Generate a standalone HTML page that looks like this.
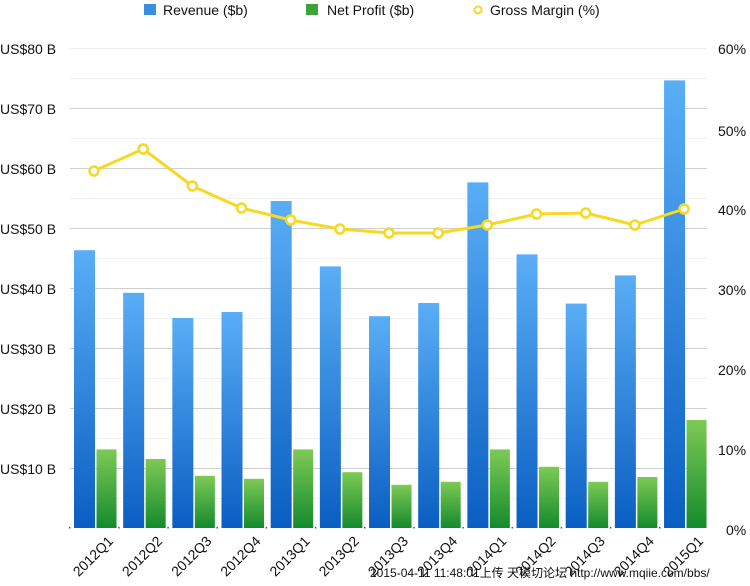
<!DOCTYPE html>
<html><head><meta charset="utf-8"><style>
html,body{margin:0;padding:0;background:#fff;width:750px;height:586px;overflow:hidden}
svg{display:block}
text{font-family:"Liberation Sans","Noto Sans CJK SC",sans-serif;fill:#111}
</style></head><body>
<svg width="750" height="586" viewBox="0 0 750 586" xmlns="http://www.w3.org/2000/svg">
<defs>
<linearGradient id="gb" x1="0" y1="0" x2="0" y2="1"><stop offset="0" stop-color="#5aaef6"/><stop offset="1" stop-color="#0a5ec2"/></linearGradient>
<linearGradient id="gg" x1="0" y1="0" x2="0" y2="1"><stop offset="0" stop-color="#7dca55"/><stop offset="1" stop-color="#148a2c"/></linearGradient>
</defs>
<!-- legend -->
<rect x="144" y="4" width="12" height="11" fill="#3c8fe0"/><text x="163" y="15" font-size="14">Revenue ($b)</text>
<rect x="306" y="4" width="12" height="11" fill="#3aa33a"/><text x="327" y="15" font-size="14">Net Profit ($b)</text>
<circle cx="478" cy="10" r="3.5" fill="none" stroke="#f5d923" stroke-width="2"/><text x="490" y="15" font-size="14">Gross Margin (%)</text>
<!-- grid -->
<g stroke="#f2f2f2" stroke-width="1">
<line x1="70" x2="707" y1="78.5" y2="78.5"/><line x1="70" x2="707" y1="138.5" y2="138.5"/><line x1="70" x2="707" y1="198.5" y2="198.5"/><line x1="70" x2="707" y1="258.5" y2="258.5"/><line x1="70" x2="707" y1="318.5" y2="318.5"/><line x1="70" x2="707" y1="378.5" y2="378.5"/><line x1="70" x2="707" y1="438.5" y2="438.5"/><line x1="70" x2="707" y1="498.5" y2="498.5"/>
</g>
<g stroke="#cfcfcf" stroke-width="1">
<line x1="70" x2="707" y1="48.5" y2="48.5" stroke="#eee"/><line x1="70" x2="707" y1="108.5" y2="108.5"/><line x1="70" x2="707" y1="168.5" y2="168.5"/><line x1="70" x2="707" y1="228.5" y2="228.5"/><line x1="70" x2="707" y1="288.5" y2="288.5"/><line x1="70" x2="707" y1="348.5" y2="348.5"/><line x1="70" x2="707" y1="408.5" y2="408.5"/><line x1="70" x2="707" y1="468.5" y2="468.5"/>
</g>
<g font-size="14">
<text x="0" y="54">US$80 B</text><text x="0" y="114">US$70 B</text><text x="0" y="174">US$60 B</text><text x="0" y="234">US$50 B</text><text x="0" y="294">US$40 B</text><text x="0" y="354">US$30 B</text><text x="0" y="414">US$20 B</text><text x="0" y="474">US$10 B</text>
<text x="718" y="54">60%</text><text x="718" y="136">50%</text><text x="718" y="215">40%</text><text x="718" y="295">30%</text><text x="718" y="375">20%</text><text x="718" y="455">10%</text><text x="726" y="535">0%</text>
</g>
<g id="bars"></g>
<g id="xl" font-size="14"></g>
<polyline id="gm" fill="none" stroke="#f5d923" stroke-width="3" stroke-linejoin="round"/>
<g id="pts"></g>
<text x="370" y="577" font-size="12" fill="#222">2015-04-11 11:48:01上传 天模切论坛 http://www.mqiie.com/bbs/</text>
</svg>
<script>
var rev=[46.3,39.2,35,36,54.5,43.6,35.3,37.5,57.6,45.6,37.4,42.1,74.6];
var np=[13.1,11.5,8.7,8.2,13.1,9.3,7.2,7.7,13.1,10.2,7.7,8.5,18];
var gmy=[171,149,186,208,220,229,233,233,225,214,213,225,209];
var labs=["2012Q1","2012Q2","2012Q3","2012Q4","2013Q1","2013Q2","2013Q3","2013Q4","2014Q1","2014Q2","2014Q3","2014Q4","2015Q1"];
var ns="http://www.w3.org/2000/svg",b=document.getElementById("bars"),xl=document.getElementById("xl"),pts=document.getElementById("pts"),pp=[];
function el(t,a,p){var e=document.createElementNS(ns,t);for(var k in a)e.setAttribute(k,a[k]);p.appendChild(e);return e;}
for(var i=0;i<13;i++){var x=74+49.17*i;
var h=rev[i]*6;el("rect",{x:x,y:528-h,width:21,height:h,fill:"url(#gb)"},b);
h=np[i]*6;el("rect",{x:x+22.5,y:528-h,width:20,height:h,fill:"url(#gg)"},b);
el("rect",{x:x-5,y:527,width:1.5,height:1.5,fill:"#555"},b);
var px=94+49.17*i;pp.push(px+","+gmy[i]);
var t=el("text",{x:0,y:0,transform:"translate("+(x+40)+",542) rotate(-45)","text-anchor":"end"},xl);t.textContent=labs[i];}
document.getElementById("gm").setAttribute("points",pp.join(" "));
for(var i=0;i<13;i++)el("circle",{cx:94+49.17*i,cy:gmy[i],r:4.5,fill:"#fff",stroke:"#f5d923","stroke-width":2.5},pts);
</script>
</body></html>
